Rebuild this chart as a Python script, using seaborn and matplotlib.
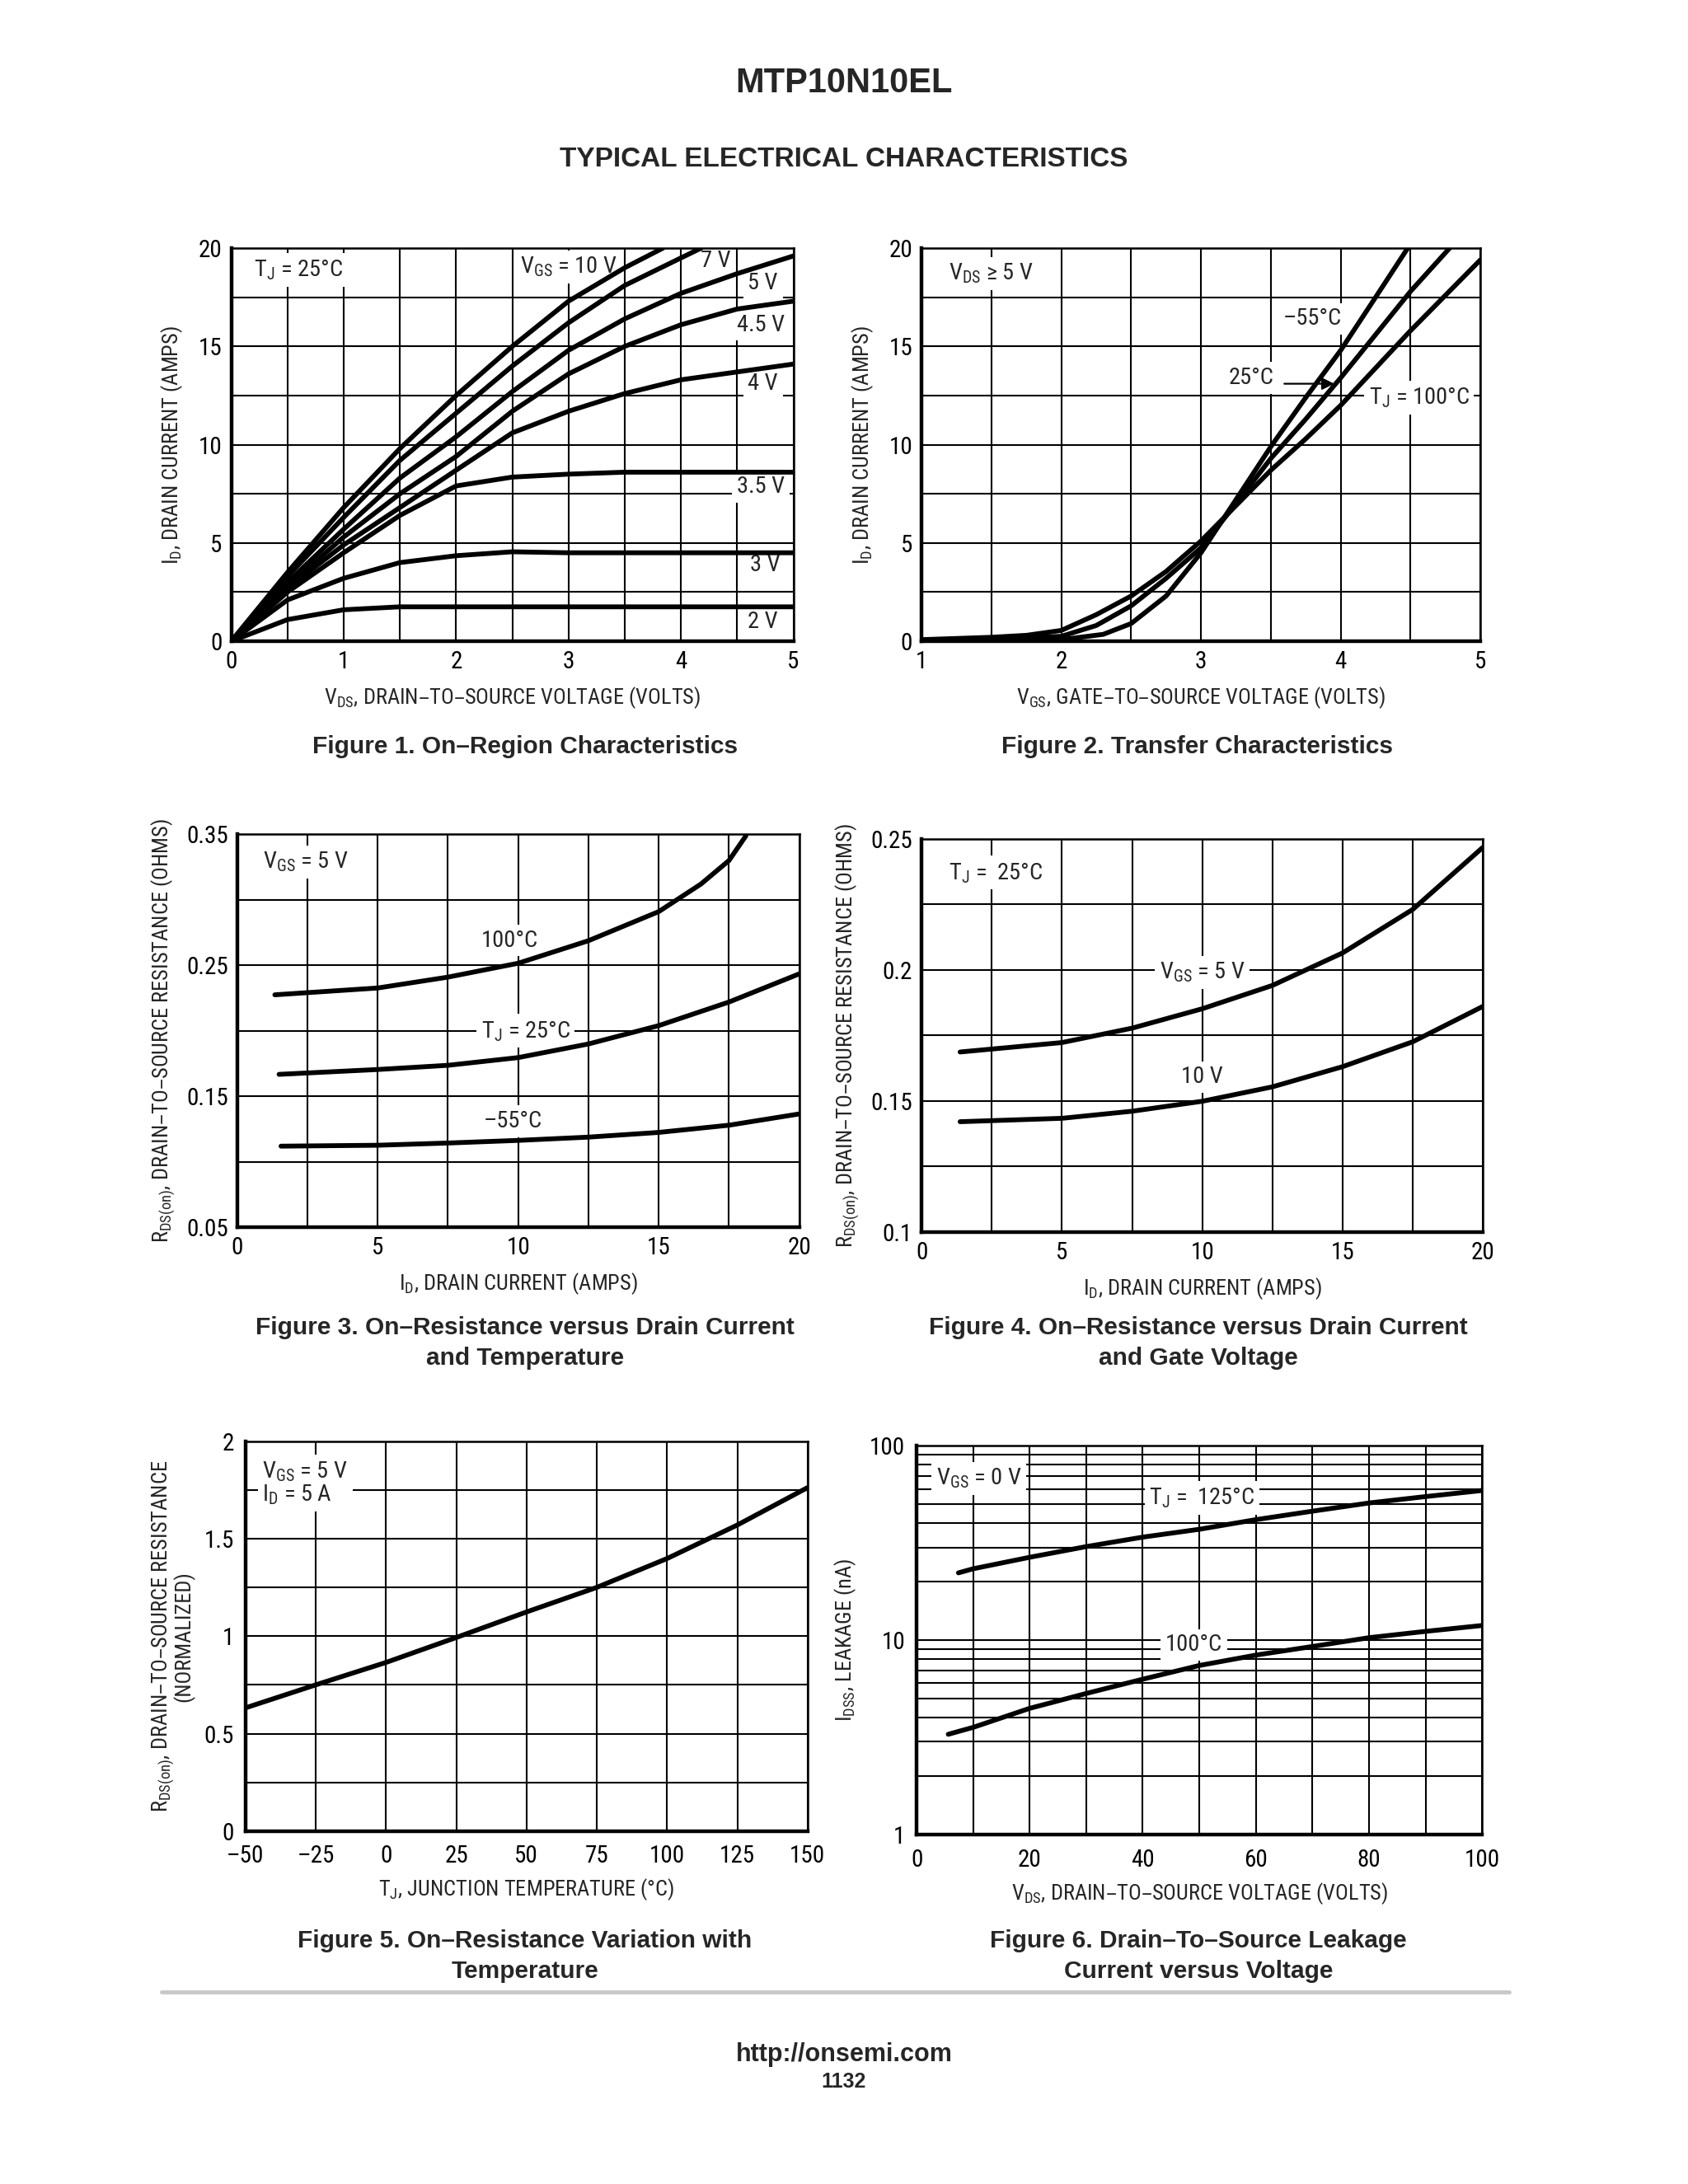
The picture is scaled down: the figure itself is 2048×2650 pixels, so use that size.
import numpy as np
import pandas as pd
import seaborn as sns
import matplotlib.pyplot as plt
from matplotlib import font_manager
from matplotlib.lines import Line2D
from matplotlib.ticker import MultipleLocator, LogLocator, NullFormatter

# ---------------- data ----------------
# Figure 1: on-region characteristics (VDS volts -> ID amps), TJ = 25 C
vds_10v = [0, 0.5, 1.0, 1.5, 2.0, 2.5, 3.0, 3.5, 3.84]
id_10v = [0, 3.5, 6.8, 9.8, 12.5, 15.0, 17.3, 19.0, 20.0]
vds_7v = [0, 0.5, 1.0, 1.5, 2.0, 2.5, 3.0, 3.5, 4.0, 4.18]
id_7v = [0, 3.3, 6.3, 9.2, 11.6, 14.0, 16.2, 18.1, 19.5, 20.0]
vds_common = [0, 0.5, 1.0, 1.5, 2.0, 2.5, 3.0, 3.5, 4.0, 4.5, 5.0]
id_5v = [0, 3.0, 5.7, 8.3, 10.4, 12.7, 14.8, 16.4, 17.7, 18.7, 19.6]
id_45v = [0, 2.8, 5.3, 7.5, 9.4, 11.7, 13.6, 15.0, 16.1, 16.9, 17.3]
id_4v = [0, 2.7, 4.9, 6.8, 8.7, 10.6, 11.7, 12.6, 13.3, 13.7, 14.1]
id_35v = [0, 2.5, 4.5, 6.4, 7.9, 8.35, 8.5, 8.6, 8.6, 8.6, 8.6]
id_3v = [0, 2.1, 3.2, 4.0, 4.35, 4.55, 4.5, 4.5, 4.5, 4.5, 4.5]
id_2v = [0, 1.1, 1.6, 1.75, 1.75, 1.75, 1.75, 1.75, 1.75, 1.75, 1.75]

# Figure 2: transfer characteristics (VGS volts -> ID amps)
vgs_m55 = [1.0, 1.5, 2.0, 2.3, 2.5, 2.75, 3.0, 3.25, 3.5, 3.75, 4.0, 4.25, 4.48]
id_m55 = [0.05, 0.05, 0.08, 0.35, 0.9, 2.3, 4.5, 7.2, 9.9, 12.4, 14.8, 17.5, 20.0]
vgs_25 = [1.0, 1.5, 2.0, 2.25, 2.5, 2.75, 3.0, 3.25, 3.5, 3.75, 4.0, 4.25, 4.5, 4.78]
id_25 = [0.05, 0.1, 0.25, 0.8, 1.8, 3.2, 4.75, 7.0, 9.3, 11.3, 13.4, 15.6, 17.8, 20.0]
vgs_100 = [1.0, 1.5, 1.75, 2.0, 2.25, 2.5, 2.75, 3.0, 3.25, 3.5, 3.75, 4.0, 4.25, 4.5, 4.75, 5.0]
id_100 = [0.08, 0.2, 0.3, 0.55, 1.35, 2.3, 3.55, 5.1, 6.9, 8.7, 10.3, 12.0, 13.9, 15.8, 17.6, 19.4]

# Figure 3: RDS(on) vs ID and temperature, VGS = 5 V
id3_100 = [1.34, 5, 7.5, 10, 12.5, 15, 16.5, 17.5, 18.1]
r3_100 = [0.2275, 0.2327, 0.241, 0.2516, 0.2688, 0.291, 0.312, 0.330, 0.3488]
id3_25 = [1.49, 5, 7.5, 10, 12.5, 15, 17.5, 20]
r3_25 = [0.1668, 0.1705, 0.1737, 0.1796, 0.190, 0.204, 0.222, 0.2435]
id3_m55 = [1.56, 5, 7.5, 10, 12.5, 15, 17.5, 20]
r3_m55 = [0.112, 0.1127, 0.1144, 0.1164, 0.1189, 0.1225, 0.128, 0.1366]

# Figure 4: RDS(on) vs ID and gate voltage, TJ = 25 C
id4 = [1.37, 5, 7.5, 10, 12.5, 15, 17.5, 20]
r4_5v = [0.1686, 0.1722, 0.1777, 0.1851, 0.194, 0.2064, 0.223, 0.2467]
r4_10v = [0.142, 0.1433, 0.146, 0.1498, 0.1553, 0.163, 0.1725, 0.186]

# Figure 5: normalized RDS(on) vs junction temperature
tj5 = [-50, -25, 0, 25, 50, 75, 100, 125, 150]
rn5 = [0.632, 0.75, 0.865, 0.993, 1.124, 1.25, 1.398, 1.57, 1.762]

# Figure 6: drain-to-source leakage vs VDS
vds6_125 = [7.4, 10, 20, 30, 40, 50, 60, 70, 80, 90, 100]
idss_125 = [22.2, 23.3, 26.7, 30.3, 33.9, 37.2, 41.7, 46.1, 50.8, 54.8, 58.9]
vds6_100 = [5.6, 10, 20, 30, 40, 50, 60, 70, 80, 90, 100]
idss_100 = [3.28, 3.56, 4.46, 5.32, 6.3, 7.41, 8.38, 9.28, 10.3, 11.1, 11.9]

# tick labels
f1_xticks = [0, 1, 2, 3, 4, 5]
f1_yticks = [0, 5, 10, 15, 20]
f2_xticks = [1, 2, 3, 4, 5]
f3_xticks = [0, 5, 10, 15, 20]
f3_yticks = [0.05, 0.15, 0.25, 0.35]
f3_ylabels = ['0.05', '0.15', '0.25', '0.35']
f4_yticks = [0.1, 0.15, 0.2, 0.25]
f4_ylabels = ['0.1', '0.15', '0.2', '0.25']
f5_xticks = [-50, -25, 0, 25, 50, 75, 100, 125, 150]
f5_xlabels = ['\u201350', '\u201325', '0', '25', '50', '75', '100', '125', '150']
f5_yticks = [0, 0.5, 1, 1.5, 2]
f5_ylabels = ['0', '0.5', '1', '1.5', '2']
f6_xticks = [0, 20, 40, 60, 80, 100]
f6_yticks = [1, 10, 100]

# ---------------- style ----------------
sns.set_style('white')

# look for a condensed sans face (the datasheet uses a condensed Helvetica)
fonts = font_manager.fontManager.ttflist
names = {f.name for f in fonts}
NARROW = None
STRETCH = 'normal'
for cand in ['Liberation Sans Narrow', 'Roboto Condensed', 'Noto Sans Condensed',
             'Open Sans Condensed', 'DejaVu Sans Condensed', 'Noto Sans SemiCondensed',
             'Open Sans SemiCondensed', 'Roboto SemiCondensed']:
    if cand in names:
        NARROW = cand
        break
if NARROW is None:
    for f in fonts:
        if f.name in ('DejaVu Sans', 'Noto Sans', 'Open Sans', 'Roboto') and \
                f.stretch in ('condensed', 'semi-condensed', 'extra-condensed') and \
                f.style == 'normal':
            NARROW = f.name
            STRETCH = f.stretch
            break
if NARROW is None:
    for f in fonts:
        if ('Condensed' in f.name or 'Narrow' in f.name) and 'Mono' not in f.name:
            NARROW = f.name
            break

if NARROW is not None:
    plt.rcParams['font.family'] = [NARROW, 'DejaVu Sans']
    plt.rcParams['font.stretch'] = STRETCH
    TICK_FS, LABEL_FS, NOTE_FS = 21, 19, 20.5
else:
    plt.rcParams['font.family'] = ['Liberation Sans', 'DejaVu Sans']
    TICK_FS, LABEL_FS, NOTE_FS = 19, 17, 18
plt.rcParams['mathtext.default'] = 'regular'

BOLD = ['Liberation Sans', 'DejaVu Sans']
LW = 4.2
BOX = dict(boxstyle='square,pad=0.2', fc='white', ec='none')


def frame(ax, xlim, ylim, xstep, ystep):
    ax.set_xlim(xlim)
    ax.set_ylim(ylim)
    if xstep:
        ax.xaxis.set_minor_locator(MultipleLocator(xstep))
    if ystep:
        ax.yaxis.set_minor_locator(MultipleLocator(ystep))
    ax.grid(which='both', color='black', lw=1.5)
    ax.set_axisbelow(True)
    ax.tick_params(which='both', length=0, labelsize=TICK_FS, pad=8, colors='black')
    for s in ax.spines.values():
        s.set_visible(True)
        s.set_color('black')
        s.set_linewidth(1.8)
        s.set_zorder(3)
    ax.spines['left'].set_linewidth(3.2)
    ax.spines['bottom'].set_linewidth(3.2)


def curve(ax, x, y):
    sns.lineplot(x=x, y=y, ax=ax, color='black', linewidth=LW,
                 estimator=None, sort=False, legend=False)


def note(ax, x, y, s, **kw):
    # boxes hide the grid but stay under the curves
    ax.text(x, y, s, fontsize=NOTE_FS, ha=kw.pop('ha', 'center'), va='center',
            bbox=BOX, zorder=1.5, **kw)


fig = plt.figure(figsize=(20.48, 26.5), dpi=100)

# ---- Figure 1 ----
ax1 = fig.add_axes([0.137, 0.7064, 0.333, 0.180])
frame(ax1, (0, 5), (0, 20), 0.5, 2.5)
curve(ax1, vds_10v, id_10v)
curve(ax1, vds_7v, id_7v)
for ys in [id_5v, id_45v, id_4v, id_35v, id_3v, id_2v]:
    curve(ax1, vds_common, ys)
ax1.set_xticks(f1_xticks, [str(v) for v in f1_xticks])
ax1.set_yticks(f1_yticks, [str(v) for v in f1_yticks])
ax1.set_xlabel('V$_{DS}$, DRAIN\u2013TO\u2013SOURCE VOLTAGE (VOLTS)', fontsize=LABEL_FS, labelpad=10)
ax1.set_ylabel('I$_{D}$, DRAIN CURRENT (AMPS)', fontsize=LABEL_FS, labelpad=12)
note(ax1, 0.6, 18.9, 'T$_{J}$ = 25\u00b0C')
note(ax1, 3.0, 19.05, 'V$_{GS}$ = 10 V')
note(ax1, 4.31, 19.35, '7 V')
note(ax1, 4.73, 18.2, '5 V')
note(ax1, 4.71, 16.1, '4.5 V')
note(ax1, 4.73, 13.1, '4 V')
note(ax1, 4.71, 7.85, '3.5 V')
note(ax1, 4.75, 3.9, '3 V')
note(ax1, 4.73, 1.0, '2 V')

# ---- Figure 2 ----
ax2 = fig.add_axes([0.546, 0.7064, 0.331, 0.180])
frame(ax2, (1, 5), (0, 20), 0.5, 2.5)
curve(ax2, vgs_m55, id_m55)
curve(ax2, vgs_25, id_25)
curve(ax2, vgs_100, id_100)
ax2.set_xticks(f2_xticks, [str(v) for v in f2_xticks])
ax2.set_yticks(f1_yticks, [str(v) for v in f1_yticks])
ax2.set_xlabel('V$_{GS}$, GATE\u2013TO\u2013SOURCE VOLTAGE (VOLTS)', fontsize=LABEL_FS, labelpad=10)
ax2.set_ylabel('I$_{D}$, DRAIN CURRENT (AMPS)', fontsize=LABEL_FS, labelpad=12)
note(ax2, 1.5, 18.7, 'V$_{DS}$ \u2265 5 V')
note(ax2, 3.80, 16.4, '\u201355\u00b0C')
note(ax2, 3.36, 13.4, '25\u00b0C')
ax2.annotate('', xy=(3.97, 13.1), xytext=(3.58, 13.1),
             arrowprops=dict(arrowstyle='-|>', color='black', lw=1.6, mutation_scale=22), zorder=4)
note(ax2, 4.56, 12.4, 'T$_{J}$ = 100\u00b0C')

# ---- Figure 3 ----
ax3 = fig.add_axes([0.1405, 0.438, 0.333, 0.180])
frame(ax3, (0, 20), (0.05, 0.35), 2.5, 0.05)
curve(ax3, id3_100, r3_100)
curve(ax3, id3_25, r3_25)
curve(ax3, id3_m55, r3_m55)
ax3.set_xticks(f3_xticks, [str(v) for v in f3_xticks])
ax3.set_yticks(f3_yticks, f3_ylabels)
ax3.set_xlabel('I$_{D}$, DRAIN CURRENT (AMPS)', fontsize=LABEL_FS, labelpad=10)
ax3.set_ylabel('R$_{DS(on)}$, DRAIN\u2013TO\u2013SOURCE RESISTANCE (OHMS)', fontsize=LABEL_FS, labelpad=8)
note(ax3, 2.45, 0.329, 'V$_{GS}$ = 5 V')
note(ax3, 9.7, 0.269, '100\u00b0C')
note(ax3, 10.26, 0.200, 'T$_{J}$ = 25\u00b0C')
note(ax3, 9.8, 0.131, '\u201355\u00b0C')

# ---- Figure 4 ----
ax4 = fig.add_axes([0.546, 0.436, 0.3325, 0.180])
frame(ax4, (0, 20), (0.1, 0.25), 2.5, 0.025)
curve(ax4, id4, r4_5v)
curve(ax4, id4, r4_10v)
ax4.set_xticks(f3_xticks, [str(v) for v in f3_xticks])
ax4.set_yticks(f4_yticks, f4_ylabels)
ax4.set_xlabel('I$_{D}$, DRAIN CURRENT (AMPS)', fontsize=LABEL_FS, labelpad=10)
ax4.set_ylabel('R$_{DS(on)}$, DRAIN\u2013TO\u2013SOURCE RESISTANCE (OHMS)', fontsize=LABEL_FS, labelpad=8)
note(ax4, 2.63, 0.237, 'T$_{J}$ =  25\u00b0C')
note(ax4, 10.0, 0.199, 'V$_{GS}$ = 5 V')
note(ax4, 10.0, 0.159, '10 V')

# ---- Figure 5 ----
ax5 = fig.add_axes([0.1454, 0.1616, 0.333, 0.1785])
frame(ax5, (-50, 150), (0, 2), 25, 0.25)
curve(ax5, tj5, rn5)
ax5.set_xticks(f5_xticks, f5_xlabels)
ax5.set_yticks(f5_yticks, f5_ylabels)
ax5.tick_params(axis='x', pad=12)
ax5.tick_params(axis='y', pad=10)
ax5.set_xlabel('T$_{J}$, JUNCTION TEMPERATURE (\u00b0C)', fontsize=LABEL_FS, labelpad=8)
ax5.set_ylabel('R$_{DS(on)}$, DRAIN\u2013TO\u2013SOURCE RESISTANCE\n(NORMALIZED)',
               fontsize=LABEL_FS, labelpad=8, linespacing=0.8)
note(ax5, -44, 1.785, 'V$_{GS}$ = 5 V\nI$_{D}$ = 5 A', ha='left', linespacing=1.0)

# ---- Figure 6 ----
ax6 = fig.add_axes([0.543, 0.160, 0.335, 0.178])
ax6.set_yscale('log')
frame(ax6, (0, 100), (1, 100), 10, None)
ax6.yaxis.set_minor_locator(LogLocator(base=10, subs=np.arange(2, 10)))
ax6.yaxis.set_minor_formatter(NullFormatter())
curve(ax6, vds6_125, idss_125)
curve(ax6, vds6_100, idss_100)
ax6.set_xticks(f6_xticks, [str(v) for v in f6_xticks])
ax6.set_yticks(f6_yticks, [str(v) for v in f6_yticks])
ax6.tick_params(axis='x', pad=12)
ax6.tick_params(axis='y', pad=10)
ax6.set_xlabel('V$_{DS}$, DRAIN\u2013TO\u2013SOURCE VOLTAGE (VOLTS)', fontsize=LABEL_FS, labelpad=8)
ax6.set_ylabel('I$_{DSS}$, LEAKAGE (nA)', fontsize=LABEL_FS, labelpad=10)
note(ax6, 11.0, 68, 'V$_{GS}$ = 0 V')
note(ax6, 50.5, 54, 'T$_{J}$ =  125\u00b0C')
note(ax6, 49.0, 9.46, '100\u00b0C')

# ---------------- page text ----------------
fig.text(0.5, 0.962, 'MTP10N10EL', ha='center', va='center', fontsize=30,
         fontweight='bold', family=BOLD)
fig.text(0.5, 0.927, 'TYPICAL ELECTRICAL CHARACTERISTICS', ha='center', va='center',
         fontsize=24, fontweight='bold', family=BOLD)

captions = [
    (0.311, 0.658, 'Figure 1. On\u2013Region Characteristics'),
    (0.709, 0.658, 'Figure 2. Transfer Characteristics'),
    (0.311, 0.385, 'Figure 3. On\u2013Resistance versus Drain Current\nand Temperature'),
    (0.710, 0.385, 'Figure 4. On\u2013Resistance versus Drain Current\nand Gate Voltage'),
    (0.311, 0.1042, 'Figure 5. On\u2013Resistance Variation with\nTemperature'),
    (0.710, 0.1042, 'Figure 6. Drain\u2013To\u2013Source Leakage\nCurrent versus Voltage'),
]
for cx, cy, txt in captions:
    fig.text(cx, cy, txt, ha='center', va='center', fontsize=21.5, fontweight='bold',
             family=BOLD, linespacing=1.42, multialignment='center')

fig.add_artist(Line2D([0.0956, 0.894], [0.0878, 0.0878], transform=fig.transFigure,
                      color='#c8c8c8', lw=3.5))
fig.text(0.5, 0.0593, 'http://onsemi.com', ha='center', va='center', fontsize=22,
         fontweight='bold', family=BOLD)
fig.text(0.5, 0.0467, '1132', ha='center', va='center', fontsize=18,
         fontweight='bold', family=BOLD)

fig.savefig('out.png', dpi=100, facecolor='white')
